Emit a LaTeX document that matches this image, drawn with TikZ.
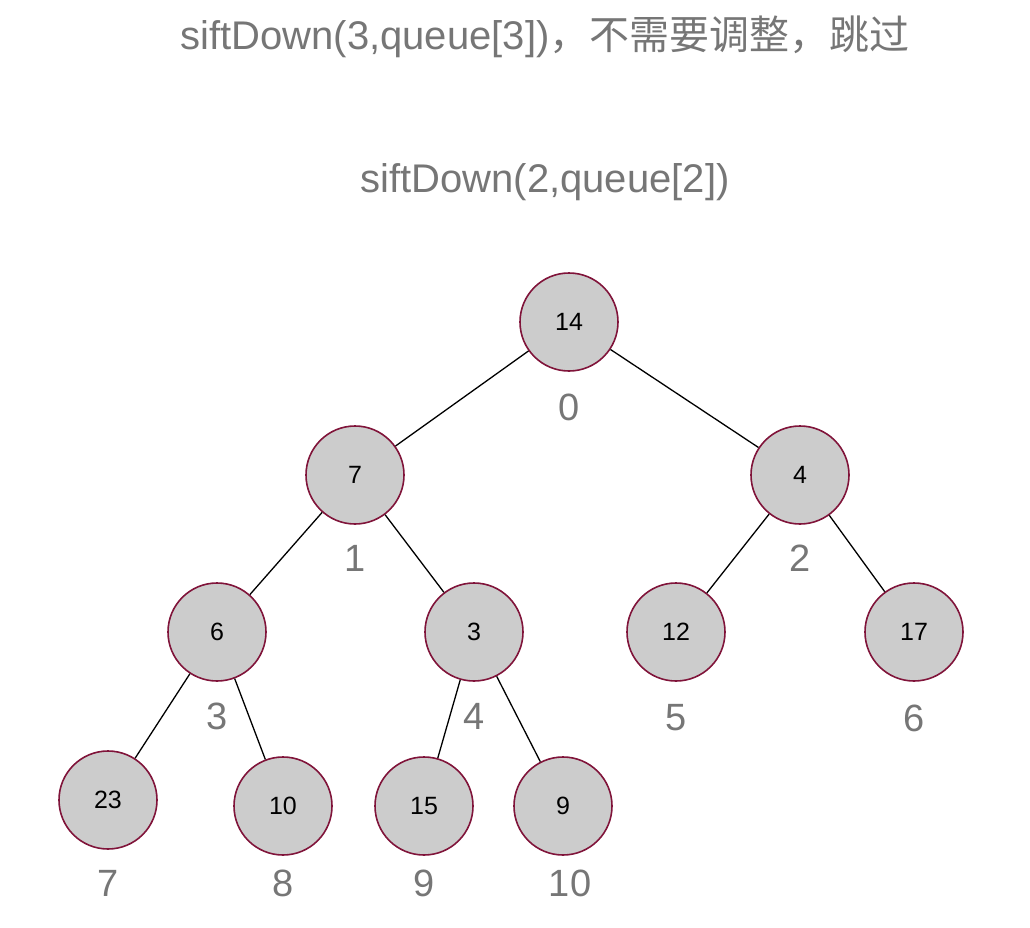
\documentclass[tikz,border=0pt]{standalone}
\usepackage{fontspec}
\setmainfont{Liberation Sans}
\newfontfamily\cjk{Noto Sans CJK SC}
\definecolor{txtgrey}{RGB}{118,118,118}
\definecolor{nodefill}{RGB}{204,204,204}
\definecolor{nodeline}{RGB}{128,20,58}
\begin{document}
\begin{tikzpicture}[x=1pt,y=-1pt,
  hnode/.style={circle,draw=nodeline,fill=nodefill,line width=1.6pt,minimum size=98pt,inner sep=0pt,font=\fontsize{25}{25}\selectfont},
  idx/.style={text=txtgrey,font=\fontsize{38}{38}\selectfont,inner sep=0pt},
  ttl/.style={text=txtgrey,font=\fontsize{40}{40}\selectfont,inner sep=0pt},
  edge/.style={draw=black,line width=1.3pt}]
\useasboundingbox (0,0) rectangle (1030,928);
\node[ttl] (t1) at (545,37) {siftDown(3,queue[3]){\cjk，不需要调整，跳过}};
\node[ttl] (t2) at (545,182) {siftDown(2,queue[2])};
\node[hnode] (n0) at (569,322) {14};
\node[hnode] (n1) at (355,475) {7};
\node[hnode] (n2) at (800,475) {4};
\node[hnode] (n3) at (217,632) {6};
\node[hnode] (n4) at (474,632) {3};
\node[hnode] (n5) at (676,632) {12};
\node[hnode] (n6) at (914,632) {17};
\node[hnode] (n7) at (108,800) {23};
\node[hnode] (n8) at (283,806) {10};
\node[hnode] (n9) at (424,806) {15};
\node[hnode] (n10) at (563,806) {9};
\node[idx] (i0) at (569,407) {0};
\node[idx] (i1) at (355,558) {1};
\node[idx] (i2) at (800,558) {2};
\node[idx] (i3) at (217,716) {3};
\node[idx] (i4) at (474,716) {4};
\node[idx] (i5) at (676,718) {5};
\node[idx] (i6) at (914,718) {6};
\node[idx] (i7) at (108,883) {7};
\node[idx] (i8) at (283,883) {8};
\node[idx] (i9) at (424,883) {9};
\node[idx] (i10) at (570,883) {10};
\draw[edge] (n0) -- (n1);
\draw[edge] (n0) -- (n2);
\draw[edge] (n1) -- (n3);
\draw[edge] (n1) -- (n4);
\draw[edge] (n2) -- (n5);
\draw[edge] (n2) -- (n6);
\draw[edge] (n3) -- (n7);
\draw[edge] (n3) -- (n8);
\draw[edge] (n4) -- (n9);
\draw[edge] (n4) -- (n10);
\end{tikzpicture}
\end{document}
